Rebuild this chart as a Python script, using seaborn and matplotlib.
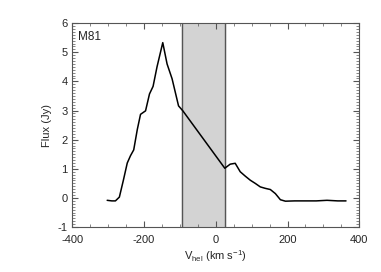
import numpy as np
import pandas as pd
import matplotlib
matplotlib.use("Agg")
import matplotlib.pyplot as plt
import seaborn as sns
from matplotlib.ticker import MultipleLocator

################ SPECTRUM DATA ################
velocity = [-303, -290, -280, -269, -258, -247, -238, -229, -219, -210, -196,
            -185, -175, -164, -148, -136, -122, -104, -92, 25, 40, 54, 68,
            82, 96, 110, 124, 138, 152, 166, 180, 194, 220, 250, 280, 310,
            340, 363]
flux = [-0.08, -0.1, -0.1, 0.03, 0.6, 1.2, 1.45, 1.65, 2.35, 2.87, 2.99,
        3.57, 3.83, 4.5, 5.33, 4.6, 4.09, 3.16, 2.99, 1.02, 1.16, 1.19, 0.9,
        0.75, 0.61, 0.5, 0.38, 0.33, 0.29, 0.15, -0.06, -0.11, -0.1, -0.1,
        -0.1, -0.08, -0.1, -0.1]

# Galactic emission window that was masked
mask_lo, mask_hi = -95, 25

df = pd.DataFrame({"v": velocity, "flux": flux})

################ PLOT ################
sns.set_style("ticks")
plt.rcParams['font.family'] = ['Liberation Sans', 'DejaVu Sans']
plt.rcParams['mathtext.fontset'] = 'custom'
plt.rcParams['mathtext.rm'] = 'Liberation Sans'
plt.rcParams['axes.unicode_minus'] = False

fig, ax = plt.subplots(figsize=(3.81, 2.72), dpi=100)
fig.subplots_adjust(left=0.19, right=0.943, top=0.915, bottom=0.165)

ax.axvspan(mask_lo, mask_hi, color='#d3d3d3', zorder=0)
ax.axvline(mask_lo, color='#555555', lw=1)
ax.axvline(mask_hi, color='#555555', lw=1)

sns.lineplot(data=df, x='v', y='flux', sort=False, color='black', lw=1.1, ax=ax)

ax.set_xlim(-400, 400)
ax.set_ylim(-1, 6)
ax.xaxis.set_major_locator(MultipleLocator(200))
ax.xaxis.set_minor_locator(MultipleLocator(50))
ax.yaxis.set_major_locator(MultipleLocator(1))
ax.yaxis.set_minor_locator(MultipleLocator(0.1))
ax.tick_params(which='both', direction='in', top=True, right=True,
               color='#555555', labelsize=8)
ax.tick_params(which='major', length=4, width=0.8)
ax.tick_params(axis='x', which='major', pad=6)
ax.tick_params(which='minor', length=2, width=0.5)
for s in ax.spines.values():
    s.set_color('#555555')
    s.set_linewidth(0.8)

ax.set_xlabel(r'V$_{\rm hel}$ (km s$^{-1}$)', fontsize=8, labelpad=2)
ax.set_ylabel('Flux (Jy)', fontsize=8)
ax.text(0.02, 0.93, 'M81', transform=ax.transAxes, fontsize=8.5, va='center')

plt.savefig('out.png', dpi=100)
